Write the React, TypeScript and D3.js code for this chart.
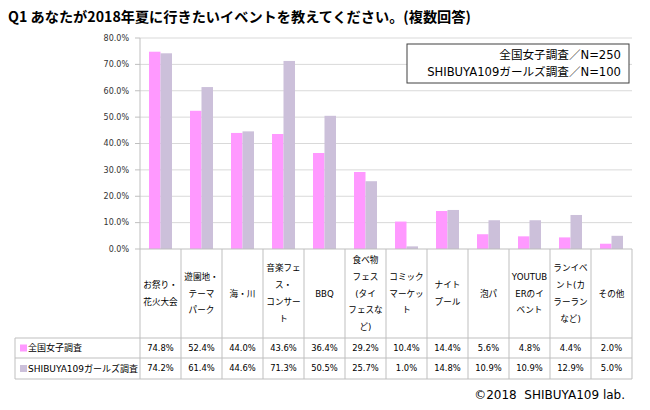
import React from "react";
import * as d3 from "d3";

const categories: string[][] = [
  ["お祭り・", "花火大会"],
  ["遊園地・", "テーマ", "パーク"],
  ["海・川"],
  ["音楽フェ", "ス・", "コンサー", "ト"],
  ["BBQ"],
  ["食べ物", "フェス", "(タイ", "フェスな", "ど)"],
  ["コミック", "マーケッ", "ト"],
  ["ナイト", "プール"],
  ["泡パ"],
  ["YOUTUB", "ERのイ", "ベント"],
  ["ランイベ", "ント(カ", "ラーラン", "など)"],
  ["その他"],
];
const seriesNames = ["全国女子調査", "SHIBUYA109ガールズ調査"];
const national = [74.8, 52.4, 44.0, 43.6, 36.4, 29.2, 10.4, 14.4, 5.6, 4.8, 4.4, 2.0];
const shibuya = [74.2, 61.4, 44.6, 71.3, 50.5, 25.7, 1.0, 14.8, 10.9, 10.9, 12.9, 5.0];
const yTicks = [0, 10, 20, 30, 40, 50, 60, 70, 80];
const colors = ["#FF99FF", "#CCC0DA"];
const title = "Q1 あなたが2018年夏に行きたいイベントを教えてください。(複数回答)";
const legendLines = ["全国女子調査／N=250", "SHIBUYA109ガールズ調査／N=100"];
const credit = "©2018  SHIBUYA109 lab.";

const W = 650;
const H = 410;
const plotL = 140;
const plotR = 632;
const plotT = 38;
const plotB = 249;
const labelB = 338;
const row1B = 358;
const row2B = 379;
const tableL = 15;
const FONT = "'DejaVu Sans', 'Noto Sans CJK JP', sans-serif";
const CJK = "'Noto Sans CJK JP', sans-serif";

export default function App() {
  const idx = categories.map((_, i) => String(i));
  const x = d3.scaleBand<string>().domain(idx).range([plotL, plotR]).padding(0);
  const y = d3.scaleLinear().domain([0, 80]).range([plotB, plotT]);
  const bw = x.bandwidth();
  const sub = d3.scaleBand<number>().domain([0, 1]).range([-11.5, 11.5]).padding(0);
  const seriesVals = [national, shibuya];
  const fmt = (v: number) => v.toFixed(1) + "%";
  const lineH = 16.8;
  const gridColor = "#D9D9D9";
  const tableColor = "#BFBFBF";

  return (
    <svg width={W} height={H} style={{ position: "absolute", left: 0, top: 0, background: "#fff" }}>
      <rect x={0} y={0} width={W} height={H} fill="#fff" />
      <text x={8} y={22} fontFamily={CJK} fontWeight={700} fontSize={14.2} fill="#000">
        {title}
      </text>
      {yTicks.map((t) => (
        <g key={t}>
          {t > 0 && (
            <line x1={plotL} x2={plotR} y1={y(t)} y2={y(t)} stroke={gridColor} strokeWidth={1} />
          )}
          <line x1={plotL - 5} x2={plotL} y1={y(t)} y2={y(t)} stroke={tableColor} strokeWidth={1} />
          <text
            x={129}
            y={y(t)}
            dy="0.35em"
            textAnchor="end"
            fontFamily={FONT}
            fontSize={8}
            fill="#333"
          >
            {t.toFixed(1) + "%"}
          </text>
        </g>
      ))}
      {seriesVals.map((vals, s) =>
        vals.map((v, i) => {
          const cx = (x(String(i)) as number) + bw / 2;
          return (
            <rect
              key={s + "-" + i}
              x={cx + (sub(s) as number)}
              y={y(v)}
              width={sub.bandwidth()}
              height={plotB - y(v)}
              fill={colors[s]}
            />
          );
        })
      )}
      <rect x={407} y={44} width={222} height={39} fill="#fff" stroke="#404040" strokeWidth={1} />
      {legendLines.map((l, i) => (
        <text
          key={i}
          x={621}
          y={59 + i * 17}
          textAnchor="end"
          fontFamily={FONT}
          fontSize={11.6}
          fill="#000"
        >
          {l}
        </text>
      ))}
      <line x1={plotL} x2={plotR} y1={plotB} y2={plotB} stroke={tableColor} />
      {[labelB, row1B, row2B].map((yy) => (
        <line key={yy} x1={tableL} x2={plotR} y1={yy} y2={yy} stroke={tableColor} />
      ))}
      <line x1={tableL} x2={tableL} y1={labelB} y2={row2B} stroke={tableColor} />
      {idx.concat(["end"]).map((k, i) => {
        const xx = plotL + i * bw;
        return <line key={k} x1={xx} x2={xx} y1={i === 0 ? plotT : plotB} y2={row2B} stroke={tableColor} />;
      })}
      {categories.map((lines, i) => {
        const cx = (x(String(i)) as number) + bw / 2;
        const mid = (plotB + labelB) / 2;
        const start = mid - ((lines.length - 1) * lineH) / 2;
        return (
          <text key={i} textAnchor="middle" fontFamily={FONT} fontSize={8.6} fill="#000">
            {lines.map((ln, j) => (
              <tspan key={j} x={cx} y={start + j * lineH} dy="0.35em">
                {ln}
              </tspan>
            ))}
          </text>
        );
      })}
      {seriesVals.map((vals, s) => {
        const top = s === 0 ? labelB : row1B;
        const bot = s === 0 ? row1B : row2B;
        const cy = (top + bot) / 2;
        return (
          <g key={s}>
            <rect x={20} y={cy - 3.5} width={7} height={7} fill={colors[s]} />
            <text x={28} y={cy} dy="0.35em" fontFamily={FONT} fontSize={9} fill="#000">
              {seriesNames[s]}
            </text>
            {vals.map((v, i) => (
              <text
                key={i}
                x={(x(String(i)) as number) + bw / 2}
                y={cy}
                dy="0.35em"
                textAnchor="middle"
                fontFamily={FONT}
                fontSize={8.4}
                fill="#000"
              >
                {fmt(v)}
              </text>
            ))}
          </g>
        );
      })}
      <text
        x={625}
        y={399}
        textAnchor="end"
        fontFamily={FONT}
        fontSize={12}
        fill="#000"
        style={{ whiteSpace: "pre" }}
      >
        {credit}
      </text>
    </svg>
  );
}
